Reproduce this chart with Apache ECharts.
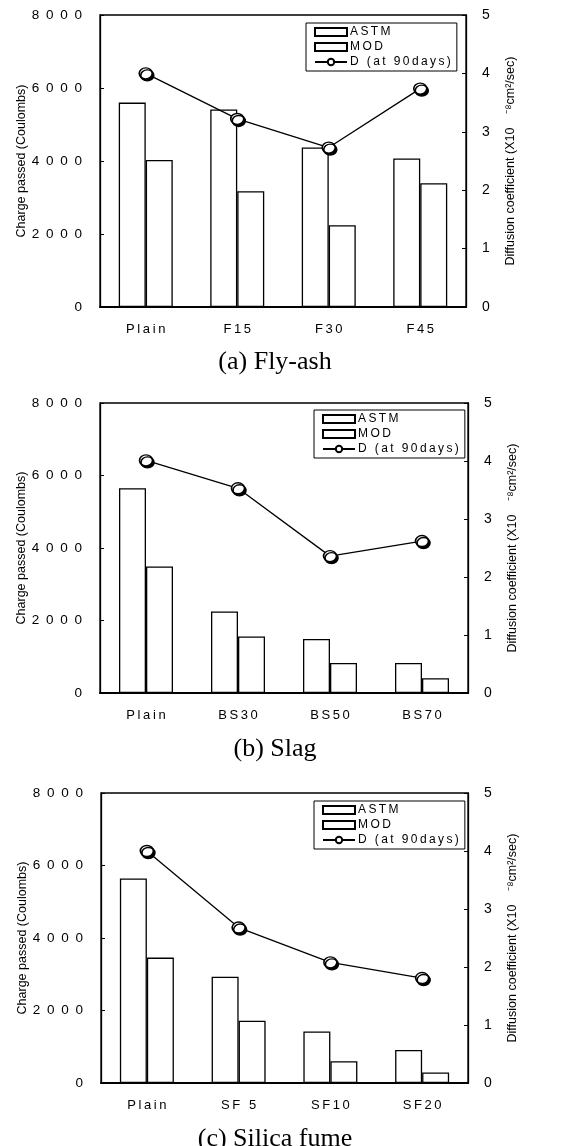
<!DOCTYPE html>
<html>
<head>
<meta charset="utf-8">
<script src="https://cdn.jsdelivr.net/npm/echarts@6/dist/echarts.min.js"></script>
<style>html,body{margin:0;padding:0;background:#fff}#c{width:569px;height:1146px}</style>
</head>
<body>
<div id="c"></div>
<script>
// ---- data ----
const categoriesA = ['Plain', 'F15', 'F30', 'F45'];
const categoriesB = ['Plain', 'BS30', 'BS50', 'BS70'];
const categoriesC = ['Plain', 'SF 5', 'SF10', 'SF20'];
const astmA = [5600, 5410, 4370, 4070];
const modA  = [4030, 3170, 2240, 3390];
const dA    = [4.00, 3.22, 2.73, 3.74];
const astmB = [5650, 2250, 1490, 830];
const modB  = [3490, 1560, 830, 410];
const dB    = [4.01, 3.53, 2.36, 2.62];
const astmC = [5640, 2930, 1420, 910];
const modC  = [3460, 1720, 600, 290];
const dC    = [4.00, 2.68, 2.08, 1.81];
const panelTitles = ['(a) Fly-ash', '(b) Slag', '(c) Silica fume'];
const seriesNames = ['ASTM', 'MOD', 'D (at 90days)'];
const leftAxis = {min: 0, max: 8000, interval: 2000};
const rightAxis = {min: 0, max: 5, interval: 1};
const leftAxisName = 'Charge passed (Coulombs)';
const rightAxisName = 'Diffusion coefficient (X10    \u207B\u2078cm\u00B2/sec)';

// ---- layout ----
const panels = [
  {cats: categoriesA, astm: astmA, mod: modA, d: dA, top: 15, height: 292, left: 100, right: 103, legend: [306, 23], title: 344},
  {cats: categoriesB, astm: astmB, mod: modB, d: dB, top: 403, height: 290, left: 100, right: 101, legend: [314, 410], title: 731},
  {cats: categoriesC, astm: astmC, mod: modC, d: dC, top: 793, height: 290, left: 101, right: 101, legend: [314, 801], title: 1121}
];
const font = '"Liberation Sans", Arial, sans-serif';
const spaced = (s, sp) => s.split('').join(sp);

const grid = [], xAxis = [], yAxis = [], series = [], legend = [], title = [];
panels.forEach((p, i) => {
  grid.push({left: p.left, right: p.right, top: p.top, height: p.height, show: true, borderColor: '#000', borderWidth: 1.3, backgroundColor: 'transparent'});
  xAxis.push({
    type: 'category', gridIndex: i, data: p.cats,
    axisLine: {show: true, lineStyle: {color: '#000', width: 2}},
    axisTick: {show: false},
    axisLabel: {color: '#000', fontFamily: font, fontSize: 13, margin: 16, formatter: v => spaced(v, '\u2009')}
  });
  yAxis.push({
    type: 'value', gridIndex: i, min: leftAxis.min, max: leftAxis.max, interval: leftAxis.interval,
    name: leftAxisName, nameLocation: 'middle', nameGap: 72, nameRotate: 90, nameMoveOverlap: false,
    nameTextStyle: {color: '#000', fontFamily: font, fontSize: 12.5},
    axisLine: {show: true, lineStyle: {color: '#000', width: 1.3}},
    axisTick: {show: true, inside: true, length: 4, lineStyle: {color: '#000'}},
    splitLine: {show: false},
    axisLabel: {color: '#000', fontFamily: font, fontSize: 13.5, margin: 18, formatter: v => spaced(String(v), '\u2002')}
  });
  yAxis.push({
    type: 'value', gridIndex: i, position: 'right', min: rightAxis.min, max: rightAxis.max, interval: rightAxis.interval,
    name: rightAxisName, nameLocation: 'middle', nameGap: 38, nameRotate: 90,
    nameTextStyle: {color: '#000', fontFamily: font, fontSize: 12.5},
    axisLine: {show: true, lineStyle: {color: '#000', width: 1.3}},
    axisTick: {show: true, inside: true, length: 4, lineStyle: {color: '#000'}},
    splitLine: {show: false},
    axisLabel: {color: '#000', fontFamily: font, fontSize: 14, margin: 16}
  });
  const barStyle = {color: '#fff', borderColor: '#000', borderWidth: 1.3};
  series.push({
    name: seriesNames[0], type: 'bar', xAxisIndex: i, yAxisIndex: 2 * i, data: p.astm,
    barWidth: 27, barGap: '0%', itemStyle: barStyle, emphasis: {disabled: true}, animation: false
  });
  series.push({
    name: seriesNames[1], type: 'bar', xAxisIndex: i, yAxisIndex: 2 * i, data: p.mod,
    barWidth: 27, barGap: '0%', itemStyle: barStyle, emphasis: {disabled: true}, animation: false
  });
  series.push({
    name: seriesNames[2], type: 'line', xAxisIndex: i, yAxisIndex: 2 * i + 1, data: p.d,
    symbol: 'circle', symbolSize: [13, 11], showAllSymbol: true,
    lineStyle: {color: '#000', width: 1.3},
    itemStyle: {color: '#fff', borderColor: '#000', borderWidth: 1.5, shadowColor: '#000', shadowBlur: 0, shadowOffsetX: 1.5, shadowOffsetY: 2},
    emphasis: {disabled: true}, animation: false, z: 5
  });
  legend.push({
    left: p.legend[0], top: p.legend[1], orient: 'vertical',
    data: [{name: seriesNames[0], icon: 'rect'}, {name: seriesNames[1], icon: 'rect'}, {name: seriesNames[2]}],
    itemWidth: 32, itemHeight: 8, itemGap: 3,
    borderColor: '#000', borderWidth: 1, padding: [3, 6, 3, 8], backgroundColor: '#fff',
    textStyle: {color: '#000', fontFamily: font, fontSize: 12, padding: [0, 0, 0, -2]},
    formatter: n => spaced(n, '\u2009'), selectedMode: false
  });
  title.push({
    text: panelTitles[i], left: 270, top: p.title, textAlign: 'center',
    textStyle: {color: '#000', fontFamily: '"Liberation Serif", "DejaVu Serif", serif', fontSize: 26, fontWeight: 'normal'}
  });
});

const chart = echarts.init(document.getElementById('c'), null, {renderer: 'canvas'});
chart.setOption({animation: false, backgroundColor: '#fff', title, grid, xAxis, yAxis, series, legend});
</script>
</body>
</html>
